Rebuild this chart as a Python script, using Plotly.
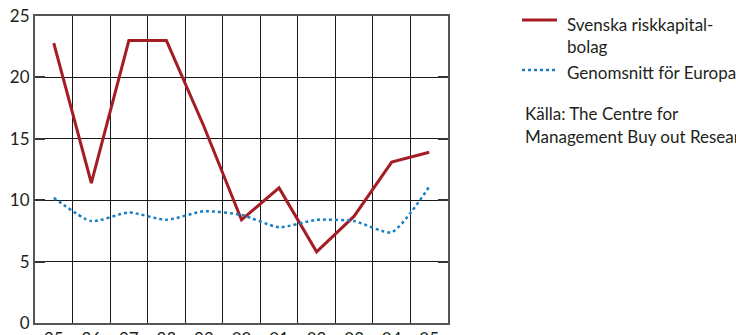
import plotly.graph_objects as go

# Years (two-digit labels) and yearly values
years = ["95", "96", "97", "98", "99", "00", "01", "02", "03", "04", "05"]
svenska = [22.8, 11.4, 23.0, 23.0, 16.0, 8.4, 11.0, 5.8, 8.7, 13.1, 13.9]
europa = [10.2, 8.3, 9.0, 8.4, 9.1, 8.8, 7.8, 8.4, 8.3, 7.4, 11.1]
y_ticks = [0, 5, 10, 15, 20, 25]

series_names = ["Svenska riskkapital-", "bolag", "Genomsnitt för Europa"]
source_lines = ["Källa: The Centre for", "Management Buy out Research"]

FONT = "Lato, Open Sans, sans-serif"
TEXT = "#231f20"
RED = "#a51d24"
BLUE = "#1b7fc4"
GRID = "#1a1a1a"
FS = 17

# plot area in pixels: left 35, right 448, top 16, bottom 323
L, R, T, B = 35, 448, 16, 323
W, H = R - L, B - T


def px_x(x):
    return (x - L) / W


def px_y(y):
    return (B - y) / H


fig = go.Figure()
fig.add_trace(go.Scatter(
    x=years, y=svenska, mode="lines", name="Svenska riskkapitalbolag",
    line=dict(color=RED, width=3), showlegend=False,
))
fig.add_trace(go.Scatter(
    x=years, y=europa, mode="lines", name=series_names[2],
    line=dict(color=BLUE, width=2.5, dash="dot", shape="spline", smoothing=0.6),
    showlegend=False,
))

# Legend drawn by hand: line samples plus labels
fig.add_shape(type="line", xref="paper", yref="paper",
              x0=px_x(522), x1=px_x(557), y0=px_y(20), y1=px_y(20),
              line=dict(color=RED, width=3))
fig.add_shape(type="line", xref="paper", yref="paper",
              x0=px_x(522), x1=px_x(557), y0=px_y(70), y1=px_y(70),
              line=dict(color=BLUE, width=2.5, dash="dot"))

label_rows = [(series_names[0], 24), (series_names[1], 46), (series_names[2], 72)]
for txt, ypix in label_rows:
    fig.add_annotation(
        xref="paper", yref="paper", x=px_x(565), y=px_y(ypix),
        text=txt, showarrow=False, xanchor="left", yanchor="middle",
        xshift=0, font=dict(family=FONT, size=FS, color=TEXT),
    )

# Source note below the legend
for txt, ypix in zip(source_lines, [113, 136]):
    fig.add_annotation(
        xref="paper", yref="paper", x=px_x(523), y=px_y(ypix),
        text=txt, showarrow=False, xanchor="left", yanchor="middle",
        font=dict(family=FONT, size=FS, color=TEXT),
    )

fig.update_layout(
    width=736, height=335,
    margin=dict(l=L, r=736 - R, t=T, b=335 - B, autoexpand=False),
    paper_bgcolor="white", plot_bgcolor="white",
    font=dict(family=FONT, size=FS, color=TEXT),
    showlegend=False,
    xaxis=dict(
        type="category", range=[-0.5, 10.5], tickson="boundaries",
        showgrid=True, gridcolor=GRID, gridwidth=1,
        showline=True, linecolor="#555", linewidth=2, mirror=True,
        ticks="", automargin=False,
        tickfont=dict(family=FONT, size=FS, color=TEXT),
    ),
    yaxis=dict(
        range=[0, 25], tickvals=y_ticks, ticktext=[str(v) for v in y_ticks],
        showgrid=True, gridcolor=GRID, gridwidth=1, zeroline=False,
        showline=True, linecolor="#555", linewidth=2, mirror="ticks",
        ticks="inside", ticklen=10, tickwidth=2, tickcolor="#333",
        automargin=False,
        tickfont=dict(family=FONT, size=FS, color=TEXT),
    ),
)

fig.write_html("out.html")
